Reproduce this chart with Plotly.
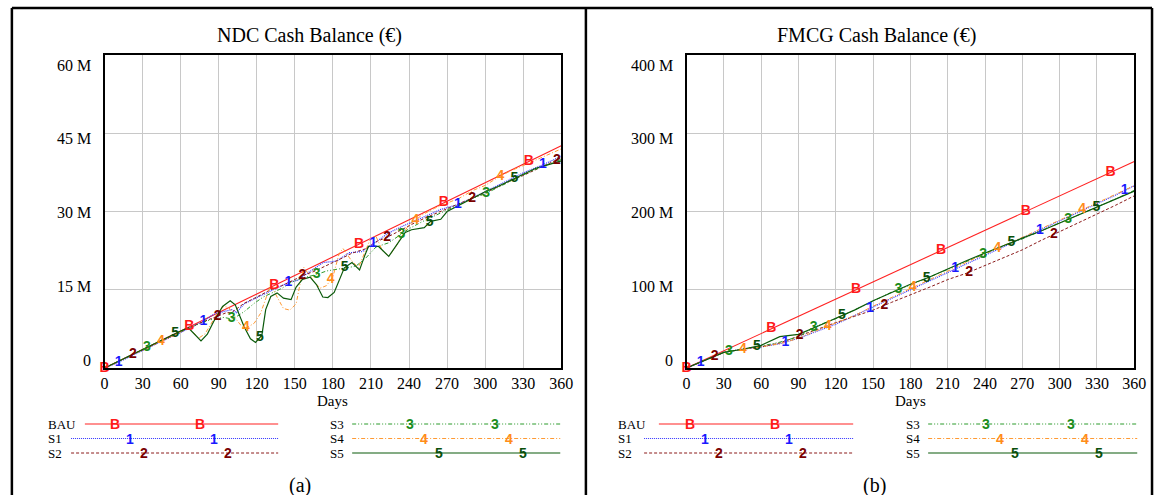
import numpy as np
import plotly.graph_objects as go

W, H = 1166, 495
def PX(x): return x / W
def PY(y): return 1 - y / H

# ---------------- Data: NDC Cash Balance (million EUR) ----------------
ndc_bau_days = [0, 360]
ndc_bau = [0, 42.6]

ndc_s1_days = [0, 11, 20, 30, 40, 50, 60, 70, 78, 86, 94, 100, 104, 110, 120, 130, 140, 145, 152, 160,
               172, 183, 193, 203, 211, 224, 235, 245, 255, 265, 278, 290, 300, 310, 320, 330, 345, 360]
ndc_s1 = [0, 1.1, 2.2, 3.4, 4.5, 5.7, 6.8, 8.0, 9.0, 10.3, 10.8, 11.2, 10.6, 12.3, 13.5, 14.7, 15.9, 16.4, 16.8, 18.2,
          20.2, 20.5, 22.1, 22.3, 23.7, 25.9, 27.2, 28.2, 29.3, 30.4, 31.3, 32.6, 33.8, 35.0, 36.3, 37.4, 38.9, 40.6]

ndc_s2_days = [0, 10, 23, 35, 45, 55, 65, 75, 89, 96, 100, 110, 120, 130, 140, 150, 157, 165, 175, 185,
               195, 205, 215, 223, 235, 245, 255, 265, 275, 289, 300, 310, 320, 330, 340, 356, 360]
ndc_s2 = [0, 1.2, 2.7, 4.0, 5.2, 6.4, 7.5, 8.6, 9.9, 10.6, 10.6, 12.4, 13.6, 14.9, 15.8, 17.0, 17.8, 18.5, 19.6, 20.8,
          22.0, 22.8, 24.3, 25.1, 26.6, 27.9, 29.0, 30.0, 31.1, 32.5, 33.6, 34.7, 35.9, 36.9, 38.0, 39.8, 40.3]

ndc_s3_days = [0, 10, 20, 30, 40, 50, 60, 70, 79, 86, 94, 100, 105, 110, 118, 125, 131, 140, 146, 155,
               167, 175, 185, 198, 206, 214, 224, 234, 240, 250, 260, 270, 280, 290, 300, 310, 320, 330, 340, 350, 360]
ndc_s3 = [0, 1.2, 2.4, 3.5, 4.7, 5.9, 7.0, 8.0, 8.9, 9.4, 9.7, 9.4, 10.0, 10.8, 12.4, 13.6, 14.3, 15.3, 16.3, 17.2,
          17.9, 18.6, 19.0, 19.5, 21.1, 23.2, 24.0, 25.6, 26.7, 28.0, 29.2, 30.3, 31.4, 32.5, 33.4, 34.6, 35.9, 37.0, 38.1, 39.0, 40.0]

ndc_s4_days = [0, 10, 20, 30, 40, 50, 60, 66, 70, 74, 79, 84, 90, 94, 98, 102, 107, 112, 118, 123, 128, 131,
               136, 141, 146, 151, 154, 157, 162, 166, 170, 175, 180, 185, 188, 194, 200, 205, 210, 214, 219, 224,
               229, 233, 240, 245, 250, 260, 270, 280, 290, 300, 310, 320, 330, 340, 350, 360]
ndc_s4 = [0, 1.2, 2.4, 3.5, 4.6, 5.8, 7.0, 7.6, 6.8, 5.7, 6.5, 8.6, 10.9, 11.8, 11.6, 9.9, 8.3, 7.7, 8.6, 10.5, 13.7, 16.0,
          13.6, 11.4, 11.1, 12.3, 16.0, 19.3, 17.6, 16.3, 15.3, 15.8, 17.5, 22.0, 22.9, 20.8, 19.2, 22.0, 25.0, 25.2, 22.5, 21.4,
          23.0, 24.8, 27.5, 28.3, 29.3, 30.6, 31.6, 32.6, 34.0, 35.0, 36.5, 37.8, 38.8, 39.9, 41.0, 42.0]

ndc_s5_days = [0, 10, 20, 30, 40, 50, 60, 66, 71, 76, 81, 86, 93, 99, 103, 110, 115, 119, 124, 127, 131, 136,
               141, 147, 151, 156, 162, 167, 172, 176, 181, 185, 189, 195, 201, 205, 208, 216, 220, 224, 230, 237,
               242, 252, 257, 265, 270, 280, 290, 300, 310, 320, 330, 340, 350, 360]
ndc_s5 = [0, 1.2, 2.4, 3.5, 4.7, 5.9, 7.1, 7.7, 6.5, 5.2, 6.5, 8.9, 11.8, 12.9, 12.1, 7.9, 5.6, 4.9, 6.3, 11.2, 13.7, 14.4,
          13.4, 13.1, 15.5, 17.0, 17.4, 16.0, 13.6, 13.5, 14.5, 16.9, 19.2, 20.2, 18.8, 21.5, 23.3, 23.3, 22.3, 21.4, 23.5, 26.0,
          26.5, 26.9, 28.1, 28.5, 30.0, 31.3, 32.5, 33.8, 34.8, 36.0, 37.2, 38.3, 39.0, 39.7]

# ---------------- Data: FMCG Cash Balance (million EUR) ----------------
fmcg_bau_days = [0, 360]
fmcg_bau = [0, 264.0]
fmcg_days = [0, 15, 30, 45, 60, 75, 90, 105, 120, 135, 150, 165, 180, 195, 210, 225, 240, 255, 270, 285, 300, 315, 330, 345, 360]
fmcg_s1 = [0, 10, 20, 24, 27, 31, 38, 47, 56, 67, 78, 89, 100, 111, 123, 134, 144, 155, 166, 177, 188, 199, 210, 221, 233]
fmcg_s2 = [0, 10, 20, 24, 27, 32, 41, 50, 58, 66, 74, 84, 93, 103, 113, 121, 131, 141, 151, 163, 174, 186, 197, 208, 220]
fmcg_s3 = [0, 10, 20, 24, 28, 33, 40, 54, 63, 74, 85, 97, 106, 116, 127, 137, 146, 156, 165, 175, 185, 196, 206, 216, 227]
fmcg_s4 = [0, 10, 20, 24, 27, 31, 38, 48, 57, 67, 79, 90, 101, 112, 124, 135, 146, 156, 167, 178, 189, 201, 211, 222, 233]
fmcg_s5 = [0, 10, 20, 24, 29, 40, 43, 53, 63, 74, 86, 97, 107, 116, 127, 137, 147, 157, 166, 175, 185, 195, 205, 215, 226]

x_ticks = list(range(0, 361, 30))
ndc_yticks = [0, 15, 30, 45, 60]
ndc_ylabels = ["0", "15 M", "30 M", "45 M", "60 M"]
fmcg_yticks = [0, 100, 200, 300, 400]
fmcg_ylabels = ["0", "100 M", "200 M", "300 M", "400 M"]

series_names = ["BAU", "S1", "S2", "S3", "S4", "S5"]
series_marks = ["B", "1", "2", "3", "4", "5"]

# ---------------- Styles ----------------
line_colors = ["#ff2222", "#3333ff", "#8b1a1a", "#2a9a2a", "#ff9a33", "#0b5a0b"]
text_colors = ["#ff1a1a", "#1a1aff", "#7a0000", "#1a8c1a", "#ff8c1a", "#0a4f0a"]
dashes = ["solid", "1px,1px", "3px,2px", "4px,2px,1px,2px,1px,2px", "4px,2px,1px,2px", "solid"]
widths = [1.1, 1.2, 1.0, 1.0, 1.0, 1.2]
SERIF = "Liberation Serif"
SANS = "Liberation Sans"

panels = [
    dict(xa="x", ya="y", xdom=(102, 565), ymax=60,
         data=[(ndc_bau_days, ndc_bau), (ndc_s1_days, ndc_s1), (ndc_s2_days, ndc_s2),
               (ndc_s3_days, ndc_s3), (ndc_s4_days, ndc_s4), (ndc_s5_days, ndc_s5)],
         yt=ndc_yticks, yl=ndc_ylabels, title="NDC Cash Balance (€)", tcx=310, pcx=300, tag="(a)",
         leg=dict(text_x=43, line_l=(82, 68, 68), line_r=278, r_text=329, r_line=(353, 564), m0=113, m1=412)),
    dict(xa="x2", ya="y2", xdom=(692, 1146), ymax=400,
         data=[(fmcg_bau_days, fmcg_bau), (fmcg_days, fmcg_s1), (fmcg_days, fmcg_s2),
               (fmcg_days, fmcg_s3), (fmcg_days, fmcg_s4), (fmcg_days, fmcg_s5)],
         yt=fmcg_yticks, yl=fmcg_ylabels, title="FMCG Cash Balance (€)", tcx=885, pcx=883, tag="(b)",
         leg=dict(text_x=621, line_l=(664, 649, 649), line_r=861, r_text=913, r_line=(937, 1149), m0=696, m1=996)),
]

fig = go.Figure()
annotations = []
shapes = []
Y_TOP, Y_BOT = 55, 368
MARK_PX = 86.0     # spacing of marker glyphs along x, in pixels
MARK_OFF = 14.3    # shift between series, in pixels

for p in panels:
    for i, (d, v) in enumerate(p["data"]):
        fig.add_trace(go.Scatter(x=d, y=v, mode="lines", xaxis=p["xa"], yaxis=p["ya"],
                                 line=dict(color=line_colors[i], width=widths[i], dash=dashes[i]),
                                 showlegend=False, hoverinfo="skip"))
for p in panels:
    px_per_day = (p["xdom"][1] - p["xdom"][0]) / 360.0
    for i, (d, v) in enumerate(p["data"]):
        md = np.arange(i * MARK_OFF, 360 * px_per_day + 0.1, MARK_PX) / px_per_day
        mv = np.interp(md, d, v)
        fig.add_trace(go.Scatter(x=md, y=mv, mode="text", text=[series_marks[i]] * len(md),
                                 textposition="middle center", xaxis=p["xa"], yaxis=p["ya"],
                                 textfont=dict(family=SANS, size=14, color=text_colors[i], weight="bold"),
                                 cliponaxis=False, showlegend=False, hoverinfo="skip"))

axis_common = dict(range=[0, 360], tickvals=x_ticks, showgrid=True, gridcolor="#c8c8c8", gridwidth=1,
                   showline=True, linecolor="black", linewidth=2, mirror=True, ticks="", zeroline=False,
                   tickfont=dict(family=SERIF, size=16, color="black"))
for k, p in enumerate(panels):
    xname = "xaxis" if k == 0 else "xaxis2"
    yname = "yaxis" if k == 0 else "yaxis2"
    fig.layout[xname] = dict(axis_common, domain=[PX(p["xdom"][0]), PX(p["xdom"][1])],
                             anchor=p["ya"])
    fig.layout[yname] = dict(range=[0, p["ymax"]], tickvals=p["yt"], showticklabels=False,
                             showgrid=True, gridcolor="#c8c8c8", gridwidth=1, showline=True,
                             linecolor="black", linewidth=2, mirror=True, ticks="", zeroline=False,
                             domain=[PY(Y_BOT), PY(Y_TOP)], anchor=p["xa"])
    for j, (tv, tl) in enumerate(zip(p["yt"], p["yl"])):
        annotations.append(dict(x=0, xref=p["xa"] + " domain", y=tv, yref=p["ya"], text=tl,
                                xanchor="right", yanchor="middle", xshift=-12, yshift=8 - 4.55 * j,
                                showarrow=False, font=dict(family=SERIF, size=16, color="black")))
    cx = (p["xdom"][0] + p["xdom"][1]) / 2
    annotations.append(dict(x=PX(cx), y=PY(401), xref="paper", yref="paper", text="Days", showarrow=False,
                            xanchor="center", yanchor="middle",
                            font=dict(family=SERIF, size=15, color="black")))
    annotations.append(dict(x=PX(p["tcx"]), y=PY(35), xref="paper", yref="paper", text=p["title"],
                            xanchor="center", yanchor="middle",
                            showarrow=False, font=dict(family=SERIF, size=20, color="black")))
    annotations.append(dict(x=PX(p["pcx"]), y=PY(485), xref="paper", yref="paper", text=p["tag"],
                            xanchor="center", yanchor="middle",
                            showarrow=False, font=dict(family=SERIF, size=20, color="black")))
    lg = p["leg"]
    rows_y = [424, 438.5, 453]
    for i in range(6):
        col = 0 if i < 3 else 1
        r = i % 3
        yy = rows_y[r]
        if col == 0:
            x0, x1, tx = lg["line_l"][r], lg["line_r"], lg["text_x"]
            m_start = lg["m0"] + r * MARK_OFF
        else:
            x0, x1 = lg["r_line"]
            tx = lg["r_text"]
            m_start = lg["m1"] + r * MARK_OFF
        shapes.append(dict(type="line", xref="paper", yref="paper", x0=PX(x0), x1=PX(x1), y0=PY(yy), y1=PY(yy),
                           line=dict(color=line_colors[i], width=widths[i], dash=dashes[i])))
        annotations.append(dict(x=PX(tx), y=PY(yy), xref="paper", yref="paper", text=series_names[i],
                                xanchor="left", yanchor="middle", showarrow=False,
                                font=dict(family=SERIF, size=13, color="black")))
        for m in range(2):
            annotations.append(dict(x=PX(m_start + m * MARK_PX), y=PY(yy), xref="paper", yref="paper",
                                    text="<b>%s</b>" % series_marks[i], showarrow=False,
                                    xanchor="center", yanchor="middle",
                                    font=dict(family=SANS, size=14, color=text_colors[i])))

# outer frame of the two panels
for (x0, y0, x1, y1) in [(8, 8, 1164, 8), (8, 8, 8, 495), (590, 8, 590, 495), (1164, 8, 1164, 495)]:
    shapes.append(dict(type="line", xref="paper", yref="paper", x0=PX(x0), x1=PX(x1), y0=PY(y0), y1=PY(y1),
                       line=dict(color="black", width=2.5)))

fig.update_layout(width=W, height=H, autosize=False, margin=dict(l=0, r=0, t=0, b=0, pad=0),
                  paper_bgcolor="white", plot_bgcolor="white", showlegend=False,
                  annotations=annotations, shapes=shapes)
fig.write_html("out.html", config={"displayModeBar": False},
               post_script="document.body.style.margin='0px';document.body.style.overflow='hidden';")
